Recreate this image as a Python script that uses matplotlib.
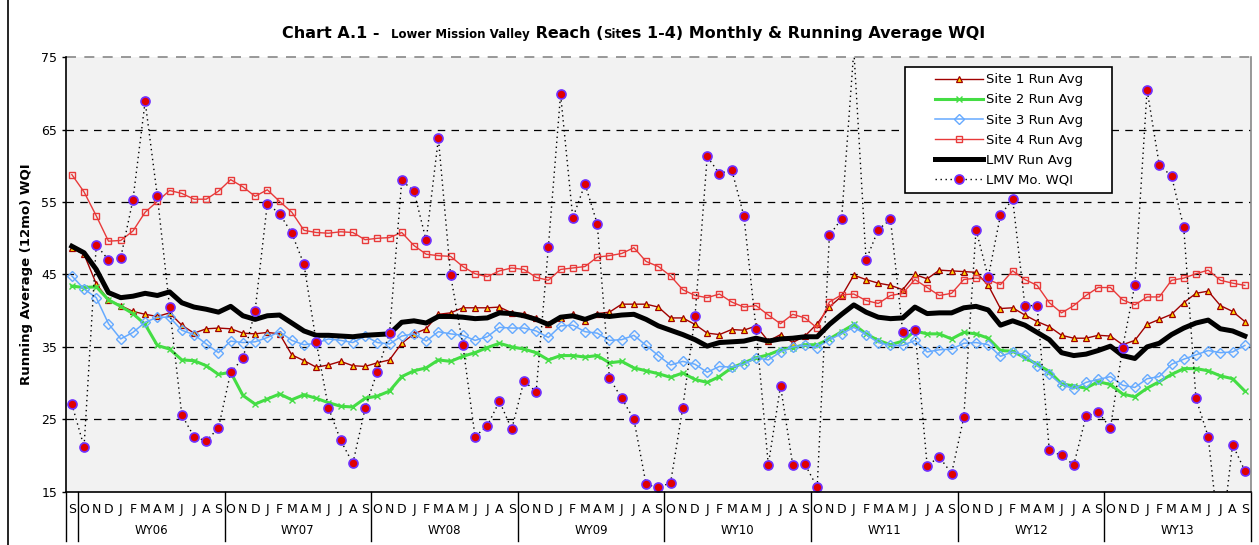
import numpy as np
import matplotlib
matplotlib.use('Agg')
import matplotlib.pyplot as plt
from matplotlib.lines import Line2D
from matplotlib.patches import Rectangle
import matplotlib.transforms as mtransforms

# Month labels: Sep 2005, then WY06..WY13 (Oct..Sep)
months = ['S'] + ['O', 'N', 'D', 'J', 'F', 'M', 'A', 'M', 'J', 'J', 'A', 'S'] * 8
water_years = ['WY06', 'WY07', 'WY08', 'WY09', 'WY10', 'WY11', 'WY12', 'WY13']

site1 = [48.6, 47.8, 43.7, 41.5, 40.7, 39.9, 39.5, 39.2, 39.7, 38.0, 36.9, 37.5, 37.6, 37.5, 36.9, 36.8,
         37.0, 36.8, 33.9, 33.1, 32.2, 32.5, 33.0, 32.4, 32.3, 32.8, 33.2, 35.5, 36.8, 37.5, 39.5, 39.7, 40.4,
         40.4, 40.4, 40.5, 39.7, 39.6, 39.0, 38.1, 39.0, 39.5, 38.6, 39.6, 39.8, 40.9, 40.9, 40.9, 40.5,
         39.0, 39.0, 38.1, 36.9, 36.7, 37.4, 37.3, 37.9, 35.8, 36.7, 35.6, 36.5, 38.2, 40.5, 42.0, 44.9,
         44.3, 43.8, 43.5, 42.9, 45.0, 44.4, 45.6, 45.5, 45.4, 45.3, 43.5, 40.3, 40.4, 39.4, 38.5, 37.8, 36.6,
         36.2, 36.2, 36.6, 36.5, 35.3, 35.9, 38.1, 38.8, 39.5, 41.1, 42.4, 42.7, 40.7, 39.9, 38.5]

site2 = [43.4, 43.2, 43.3, 41.5, 40.6, 39.6, 38.1, 35.2, 34.7, 33.2, 33.1, 32.4, 31.2, 31.5, 28.3, 27.1,
         27.8, 28.5, 27.7, 28.4, 27.9, 27.3, 26.8, 26.7, 27.9, 28.2, 28.9, 30.9, 31.7, 32.1, 33.2, 33.0, 33.7,
         34.2, 34.9, 35.5, 35.0, 34.7, 34.2, 33.2, 33.8, 33.8, 33.6, 33.8, 32.8, 33.0, 32.1, 31.7, 31.3,
         30.8, 31.4, 30.5, 30.1, 30.9, 32.1, 32.8, 33.5, 33.9, 34.6, 34.9, 35.3, 35.3, 36.1, 37.1, 38.1,
         36.8, 35.9, 35.3, 35.8, 37.2, 36.8, 36.8, 36.1, 37.0, 36.8, 36.2, 34.5, 34.4, 33.5, 32.6, 31.6, 29.9,
         29.6, 29.3, 30.2, 29.8, 28.5, 28.1, 29.3, 30.2, 31.2, 32.0, 32.0, 31.7, 31.0, 30.6, 28.9]

site3 = [44.8, 43.0, 41.8, 38.2, 36.1, 37.0, 38.4, 39.1, 39.1, 37.3, 36.7, 35.4, 34.2, 35.8, 35.6, 35.7,
         36.3, 37.1, 35.9, 35.3, 35.5, 36.1, 35.9, 35.6, 36.5, 35.6, 35.4, 36.5, 36.8, 35.8, 37.1, 36.8, 36.6,
         35.9, 36.4, 37.7, 37.6, 37.6, 37.2, 36.3, 37.9, 38.0, 37.1, 36.9, 35.9, 36.0, 36.6, 35.2, 33.8,
         32.5, 33.0, 32.6, 31.5, 32.3, 32.2, 32.6, 33.5, 33.2, 34.3, 35.0, 35.2, 34.9, 36.0, 36.8, 37.7,
         36.7, 35.6, 35.2, 35.2, 35.9, 34.3, 34.6, 34.7, 35.5, 35.6, 35.3, 33.7, 34.3, 33.9, 32.4, 31.2, 29.8,
         29.2, 30.1, 30.5, 30.9, 29.7, 29.4, 30.6, 30.9, 32.6, 33.3, 33.9, 34.5, 34.2, 34.3, 35.2]

site4 = [58.8, 56.4, 53.1, 49.6, 49.7, 51.0, 53.6, 55.1, 56.6, 56.2, 55.4, 55.4, 56.5, 58.1, 57.1, 55.8,
         56.7, 55.1, 53.6, 51.1, 50.8, 50.7, 50.9, 50.8, 49.8, 50.0, 50.1, 50.8, 49.0, 47.8, 47.6, 47.5, 46.1,
         45.1, 44.7, 45.5, 45.9, 45.7, 44.6, 44.2, 45.7, 45.9, 46.1, 47.4, 47.6, 47.9, 48.7, 46.8, 46.1,
         44.8, 42.9, 42.1, 41.8, 42.3, 41.2, 40.5, 40.7, 39.4, 38.2, 39.5, 39.0, 37.6, 41.2, 42.2, 42.3,
         41.4, 41.0, 42.1, 42.4, 44.3, 43.2, 42.1, 42.4, 44.3, 44.5, 44.3, 43.6, 45.5, 44.3, 43.5, 41.1, 39.7,
         40.7, 42.1, 43.2, 43.2, 41.5, 40.8, 41.9, 41.9, 44.2, 44.5, 45.1, 45.6, 44.2, 43.8, 43.5]

lmv_avg = [48.9, 48.0, 45.7, 42.5, 41.8, 42.0, 42.4, 42.1, 42.6, 41.1, 40.5, 40.2, 39.8, 40.6, 39.3, 38.8,
           39.3, 39.4, 38.3, 37.2, 36.6, 36.6, 36.5, 36.4, 36.6, 36.7, 36.8, 38.4, 38.6, 38.3, 39.2, 39.2, 39.1,
           38.9, 39.0, 39.7, 39.6, 39.3, 38.8, 38.1, 39.1, 39.3, 38.8, 39.4, 39.2, 39.4, 39.5, 38.8, 37.9,
           37.3, 36.7, 36.0, 35.1, 35.6, 35.7, 35.8, 36.2, 35.8, 36.1, 36.2, 36.4, 36.4, 38.1, 39.5, 40.8,
           39.8, 39.1, 38.9, 39.0, 40.5, 39.6, 39.7, 39.7, 40.4, 40.6, 40.1, 38.0, 38.6, 38.0, 37.0, 36.0, 34.2,
           33.8, 34.0, 34.5, 35.1, 33.8, 33.4, 35.0, 35.5, 36.7, 37.6, 38.3, 38.7, 37.5, 37.2, 36.5]

lmv_mo = [27.1, 21.2, 49.1, 47.0, 47.3, 55.3, 68.9, 55.8, 40.5, 25.6, 22.6, 22.0, 23.8, 31.5, 33.4, 40.0,
          54.8, 53.4, 50.7, 46.4, 35.7, 26.6, 22.1, 18.9, 26.5, 31.6, 36.9, 58.0, 56.5, 49.7, 63.8, 44.9, 35.3,
          22.6, 24.1, 27.5, 23.6, 30.3, 28.8, 48.8, 69.9, 52.8, 57.5, 52.0, 30.7, 27.9, 25.0, 16.0, 15.6,
          16.2, 26.6, 39.2, 61.3, 58.9, 59.5, 53.1, 37.5, 18.7, 29.6, 18.7, 18.8, 15.6, 50.4, 52.7, 76.0,
          47.0, 51.2, 52.6, 37.1, 37.4, 18.6, 19.8, 17.5, 25.3, 51.2, 44.6, 53.2, 55.4, 40.7, 40.7, 20.7, 20.0,
          18.7, 25.4, 26.0, 23.8, 34.9, 43.6, 70.5, 60.1, 58.6, 51.5, 27.9, 22.6, 7.0, 21.5, 17.9]

x = np.arange(len(months))

fig = plt.figure(figsize=(12.59, 5.45), dpi=100)
ax = fig.add_axes([0.0522, 0.0978, 0.9414, 0.7971])
ax.set_facecolor('#F2F2F2')

ax.plot(x, site1, color='#A00000', lw=1.0, marker='^', ms=5, mfc='#FFD700', mec='#A00000',
        mew=0.9, label='Site 1 Run Avg')
ax.plot(x, site2, color='#44DD44', lw=2.2, marker='x', ms=4.5, mew=1.0, label='Site 2 Run Avg')
ax.plot(x, site3, color='#66AAFF', lw=1.1, marker='D', ms=5.5, mfc='none', mec='#66AAFF',
        mew=1.0, label='Site 3 Run Avg')
ax.plot(x, site4, color='#E83A3A', lw=1.0, marker='s', ms=5, mfc='none', mec='#E83A3A',
        mew=1.0, label='Site 4 Run Avg')
ax.plot(x, lmv_avg, color='black', lw=3.6, solid_joinstyle='round', label='LMV Run Avg')
ax.plot(x, lmv_mo, color='black', lw=1.0, ls=(0, (1, 2.6)), marker='o', ms=6.5, mfc='#E00000',
        mec='#7030FF', mew=1.2, label='LMV Mo. WQI')

ax.set_xlim(-0.5, 96.5)
ax.set_ylim(15, 75)

# horizontal dashed gridlines
for yv in [25, 35, 45, 55, 65]:
    ax.axhline(yv, color='black', lw=0.9, ls=(0, (6, 5)), zorder=0.5)
ax.axhline(75, color='#888888', lw=1.2, ls=(0, (6, 5)), zorder=0.5, clip_on=False)

ax.spines['top'].set_visible(False)
ax.spines['right'].set_color('#888888')
ax.spines['right'].set_linewidth(1.2)
ax.spines['left'].set_linewidth(1.2)
ax.spines['bottom'].set_linewidth(1.2)

ax.set_yticks([15, 25, 35, 45, 55, 65, 75])
ax.tick_params(axis='y', labelsize=9, length=3, width=1, pad=3)
ax.set_xticks(x)
ax.set_xticklabels(months, fontsize=9)
ax.tick_params(axis='x', length=0, pad=8)

ax.set_ylabel('Running Average (12mo) WQI', fontsize=9.5, fontweight='bold')
ax.yaxis.set_label_coords(-0.028, 0.5)

# category group separators and water-year labels
trans = mtransforms.blended_transform_factory(ax.transData, ax.transAxes)
for xs in [-0.5, 0.5] + [12.5 + 12 * k for k in range(8)]:
    ax.add_line(Line2D([xs, xs], [0, -0.113], transform=trans, color='black', lw=1.0, clip_on=False))
for k, wy in enumerate(water_years):
    ax.text(6.5 + 12 * k, -0.09, wy, transform=trans, ha='center', va='center', fontsize=8.5)

# legend with a wide hand-drawn frame like the Excel original
ax.add_patch(Rectangle((0.7081, 0.6876), 0.1746, 0.2901, transform=ax.transAxes,
                       facecolor='white', edgecolor='black', lw=1.2, zorder=4.9))
leg = ax.legend(loc='upper left', bbox_to_anchor=(0.7334, 0.963), fontsize=9.5, frameon=False,
                handlelength=3.64, labelspacing=0.54, borderpad=0, handletextpad=0.25,
                borderaxespad=0)
leg.set_zorder(5)

# left border line of chart area
fig.add_artist(Line2D([8 / 1259, 8 / 1259], [0, 1], transform=fig.transFigure, color='black', lw=1.2))

# title with mixed font sizes
parts = [('Chart A.1 -  ', 11.5), ('Lower Mission Valley', 8.5), (' Reach (', 11.5), ('Sit', 8.5),
         ('es 1-4) Monthly & Running Average WQI', 11.5)]
renderer = fig.canvas.get_renderer()
texts = []
for s, fs in parts:
    t = fig.text(0, 1 - 38 / 545, s, fontsize=fs, fontweight='bold', ha='left', va='baseline')
    texts.append(t)
widths = [t.get_window_extent(renderer).width for t in texts]
xpos = 634 - sum(widths) / 2
for t, w in zip(texts, widths):
    t.set_x(xpos / 1259)
    xpos += w

fig.savefig('out.png', dpi=100)
